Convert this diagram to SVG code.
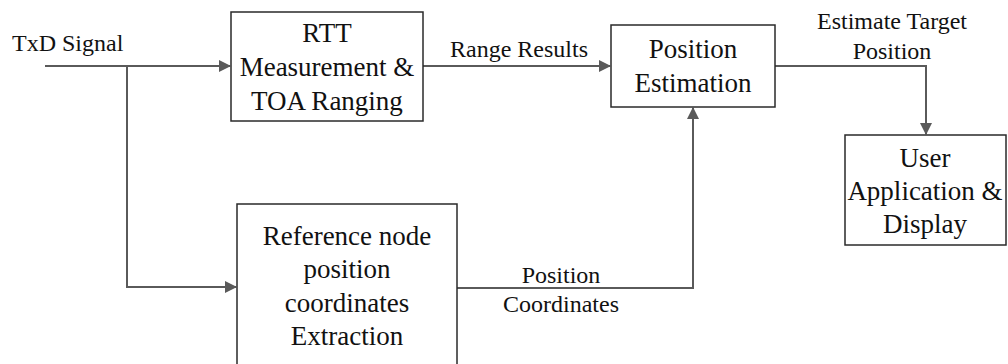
<svg xmlns="http://www.w3.org/2000/svg" width="1008" height="364" viewBox="0 0 1008 364">
<style>
.box{fill:#fff;stroke:#2a2a2a;stroke-width:1.5}
.nt{font-family:'Liberation Serif','DejaVu Serif','Times New Roman',Times,serif;font-size:27px;fill:#111;text-anchor:middle}
.lt{font-family:'Liberation Serif','DejaVu Serif','Times New Roman',Times,serif;font-size:24px;fill:#111;text-anchor:middle}
.cn{fill:none;stroke:#5a5a5a;stroke-width:2}
</style>
<defs>
<marker id="ah" markerUnits="userSpaceOnUse" markerWidth="12" markerHeight="12" refX="11" refY="6" orient="auto">
<path d="M0,0 L12,6 L0,12 Z" fill="#5a5a5a"/>
</marker>
</defs>
<rect width="1008" height="364" fill="#fff"/>
<g id="connectors">
<path class="cn" d="M45,66 H230" marker-end="url(#ah)"/>
<path class="cn" d="M127,66 V287 H236" marker-end="url(#ah)"/>
<path class="cn" d="M423,66 H610" marker-end="url(#ah)"/>
<path class="cn" d="M775,66 H926 V134" marker-end="url(#ah)"/>
<path class="cn" d="M457,288 H693 V108" marker-end="url(#ah)"/>
</g>
<g id="labels">
<text class="lt" x="12" y="51" style="text-anchor:start">TxD Signal</text>
<text class="lt" x="519" y="57">Range Results</text>
<text class="lt" x="892" y="29">Estimate Target</text>
<text class="lt" x="892" y="59">Position</text>
<text class="lt" x="561" y="283">Position</text>
<text class="lt" x="561" y="312">Coordinates</text>
</g>
<g id="node-rtt">
<rect class="box" x="231" y="12" width="192" height="109"/>
<text class="nt" x="327" y="42">RTT</text>
<text class="nt" x="327" y="76">Measurement &amp;</text>
<text class="nt" x="327" y="110">TOA Ranging</text>
</g>
<g id="node-position-estimation">
<rect class="box" x="611" y="25" width="164" height="82"/>
<text class="nt" x="693" y="58">Position</text>
<text class="nt" x="693" y="92">Estimation</text>
</g>
<g id="node-user">
<rect class="box" x="845" y="135" width="161" height="110"/>
<text class="nt" x="925" y="167">User</text>
<text class="nt" x="925" y="200">Application &amp;</text>
<text class="nt" x="925" y="233">Display</text>
</g>
<g id="node-reference">
<rect class="box" x="237" y="204" width="220" height="170"/>
<text class="nt" x="347" y="245">Reference node</text>
<text class="nt" x="347" y="278">position</text>
<text class="nt" x="347" y="312">coordinates</text>
<text class="nt" x="347" y="345">Extraction</text>
</g>
</svg>
